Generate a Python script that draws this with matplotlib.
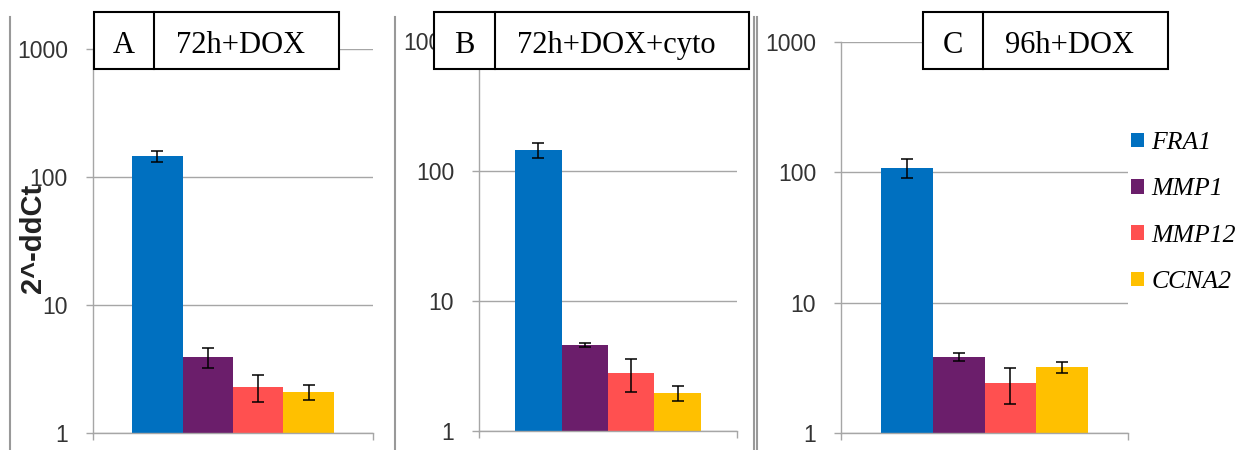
import matplotlib
matplotlib.use("Agg")
import matplotlib.pyplot as plt
from matplotlib.patches import Rectangle, Patch
from matplotlib.lines import Line2D
from matplotlib.ticker import FixedLocator, FuncFormatter, NullLocator

genes = ["FRA1", "MMP1", "MMP12", "CCNA2"]
colors = ["#0070C0", "#6B1E6B", "#FF5050", "#FFC000"]
panel_letters = ["A", "B", "C"]
panel_titles = ["72h+DOX", "72h+DOX+cyto", "96h+DOX"]
values_A = [146, 3.93, 2.29, 2.09]
errors_A = [15, 0.7, 0.55, 0.28]
values_B = [145, 4.58, 2.79, 1.96]
errors_B = [20, 0.16, 0.8, 0.26]
values_C = [108, 3.83, 2.42, 3.21]
errors_C = [18, 0.28, 0.75, 0.3]
yticks = [1, 10, 100, 1000]

W, H = 1241, 450
fig = plt.figure(figsize=(W / 100, H / 100), dpi=100)

def fx(px):
    return px / W

def fy(py):
    return (H - py) / H

# axes rectangles in pixel coords: left, right, y_bottom(1), y_top(1000)
axes_px = [(93, 373, 433, 49), (479, 737, 431, 41), (841, 1128, 433, 42)]
data = [(values_A, errors_A), (values_B, errors_B), (values_C, errors_C)]

grid_c = "#A6A6A6"
bw = 0.18
xs = [0.5 + (i - 1.5) * bw for i in range(4)]

axes = []
for (l, r, b, t), (vals, errs) in zip(axes_px, data):
    ax = fig.add_axes([fx(l), fy(b), (r - l) / W, (b - t) / H])
    ax.set_yscale("log")
    ax.set_ylim(1, 1000)
    ax.set_xlim(0, 1)
    ax.bar(xs, vals, width=bw, color=colors, edgecolor="none", zorder=2)
    ax.errorbar(xs, vals, yerr=errs, fmt="none", ecolor="black",
                elinewidth=1.1, capsize=4, capthick=1.1, zorder=3)
    ax.yaxis.set_major_locator(FixedLocator(yticks))
    ax.yaxis.set_minor_locator(NullLocator())
    ax.yaxis.set_major_formatter(FuncFormatter(lambda v, p: f"{int(v)}"))
    ax.xaxis.set_major_locator(FixedLocator([0, 1]))
    ax.xaxis.set_minor_locator(NullLocator())
    ax.set_xticklabels([])
    ax.tick_params(axis="y", length=5, width=1, color=grid_c, pad=13,
                   labelsize=16.5, labelcolor="#333333")
    ax.tick_params(axis="x", length=5, width=1, color=grid_c)
    for lab in ax.get_yticklabels():
        lab.set_fontfamily("Liberation Sans")
    ax.grid(axis="y", color=grid_c, linewidth=1, zorder=0)
    ax.set_axisbelow(True)
    for s in ["top", "right"]:
        ax.spines[s].set_visible(False)
    for s in ["left", "bottom"]:
        ax.spines[s].set_color(grid_c)
        ax.spines[s].set_linewidth(1)
    ax.patch.set_alpha(0)
    axes.append(ax)

# y label
fig.text(fx(33), fy(238), "2^-ddCt", rotation=90, ha="center", va="center",
         fontsize=21, fontweight="bold", family="Liberation Sans", color="#222222")

# separator lines
for x in [10, 395, 754, 757]:
    fig.add_artist(Line2D([fx(x), fx(x)], [fy(17), fy(450)], color="#999999",
                          linewidth=1.5, transform=fig.transFigure))

# title boxes: left, divider, right, letter center, title center
boxes = [(94, 154, 339, 124, 241), (434, 495, 749, 464, 616), (923, 983, 1168, 953, 1069)]
for (bl, bd, br, lc, tc), letter, title in zip(boxes, panel_letters, panel_titles):
    rect = Rectangle((fx(bl), fy(69)), (br - bl) / W, (69 - 12) / H,
                     transform=fig.transFigure, facecolor="white",
                     edgecolor="black", linewidth=1.5, zorder=10)
    fig.add_artist(rect)
    fig.add_artist(Line2D([fx(bd), fx(bd)], [fy(12), fy(69)], color="black",
                          linewidth=1.5, transform=fig.transFigure, zorder=11))
    fig.text(fx(lc), fy(53), letter, ha="center", va="baseline", fontsize=22,
             family="Liberation Serif", zorder=12)
    fig.text(fx(tc), fy(53), title, ha="center", va="baseline", fontsize=22,
             family="Liberation Serif", zorder=12)

handles = [Patch(facecolor=c, edgecolor="none") for c in colors]
leg = fig.legend(handles, genes, loc="upper left",
                 bbox_to_anchor=(fx(1131), fy(132)), bbox_transform=fig.transFigure,
                 frameon=False, borderpad=0, borderaxespad=0,
                 handlelength=0.5, handleheight=0.5, handletextpad=0.3,
                 labelspacing=0.95,
                 prop={"family": "Liberation Serif", "style": "italic", "size": 18.5})

fig.savefig("out.png", dpi=100)
